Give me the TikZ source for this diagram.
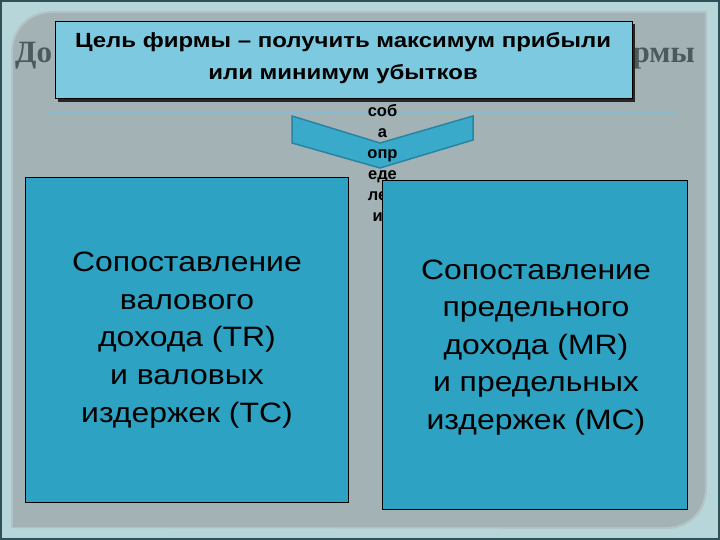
\documentclass[tikz,border=0pt]{standalone}
\usepackage{fontspec}
\setmainfont{Liberation Sans}
\newfontfamily\titlefont{Liberation Serif}
\newfontfamily\widesans[FakeStretch=1.14]{Liberation Sans}
\newfontfamily\widerbold[FakeStretch=1.17]{Liberation Sans}
\definecolor{outerbg}{HTML}{B6D6D9}
\definecolor{frame}{HTML}{2E5157}
\definecolor{panel}{HTML}{A3B3B5}
\definecolor{panelhi}{HTML}{B4C4C6}
\definecolor{topfill}{HTML}{7DC9DF}
\definecolor{boxfill}{HTML}{2EA2C2}
\definecolor{chevfill}{HTML}{3AAACB}
\definecolor{chevline}{HTML}{2784A3}
\definecolor{titlegray}{HTML}{4D5A5C}
\definecolor{rulecol}{HTML}{86BCCD}
\tikzset{
  bigbox/.style={draw=black, line width=0.8pt, fill=boxfill, anchor=north west, inner sep=0pt},
  bigtext/.style={align=center, inner sep=0pt, font=\widesans\fontsize{28}{37.6}\selectfont, text=black},
  coltext/.style={align=center, inner sep=0pt, font=\bfseries\fontsize{16.5}{21}\selectfont, text=black},
  titletext/.style={inner sep=0pt, font=\titlefont\bfseries\fontsize{31}{34}\selectfont, text=titlegray},
}
\begin{document}
\begin{tikzpicture}[x=1pt,y=-1pt]
\useasboundingbox (0,0) rectangle (720,540);
% background
\fill[outerbg] (0,0) rectangle (720,540);
\draw[frame, line width=2pt] (1,1) rectangle (719,539);
% panel
\fill[panelhi] (11,528) -- (11,52) .. controls (11,28) and (28,11) .. (52,11) -- (707,11) -- (707,488) .. controls (707,512) and (690,529) .. (666,529) -- cycle;
\fill[panel] (13,527) -- (13,52) .. controls (13,30) and (30,13) .. (52,13) -- (705,13) -- (705,488) .. controls (705,510) and (688,527) .. (666,527) -- cycle;
% title fragments
\node[titletext, anchor=base west] (tl) at (15,63) {До};
\node[titletext, anchor=base east] (tr) at (695,63) {рмы};
% rule
\draw[rulecol, line width=1pt] (46,113) coordinate (r1) -- (675,113) coordinate (r2);
% chevron
\draw[chevline, fill=chevfill, line width=1.5pt] (292,116) -- (380,143) -- (473,116) -- (473,140) -- (380,168) -- (292,143) -- cycle;
\coordinate (chev) at (380,140);
% column text
\node[coltext, anchor=north] (col) at (382.5,104) {соб\\а\\опр\\еде\\лен\\ия};
% top box
\fill[black!85] (58,24) rectangle (635,102);
\node[draw=black, line width=1pt, fill=topfill, anchor=north west, minimum width=577pt, minimum height=77pt, inner sep=0pt] (goal) at (55,21) {};
\node[align=center, inner sep=0pt, font=\widerbold\bfseries\fontsize{20.5}{32}\selectfont] (goaltext) at (343,58) {Цель фирмы – получить максимум прибыли\\или минимум убытков};
% boxes
\node[bigbox, minimum width=323pt, minimum height=325pt] (left) at (25,177) {};
\node[bigbox, minimum width=305pt, minimum height=329pt] (right) at (382,180) {};
\node[bigtext] (lt) at (187,340) {Сопоставление\\валового\\дохода (TR)\\и валовых\\издержек (TC)};
\node[bigtext] (rt) at (536,347.5) {Сопоставление\\предельного\\дохода (MR)\\и предельных\\издержек (MC)};
\end{tikzpicture}
\end{document}
